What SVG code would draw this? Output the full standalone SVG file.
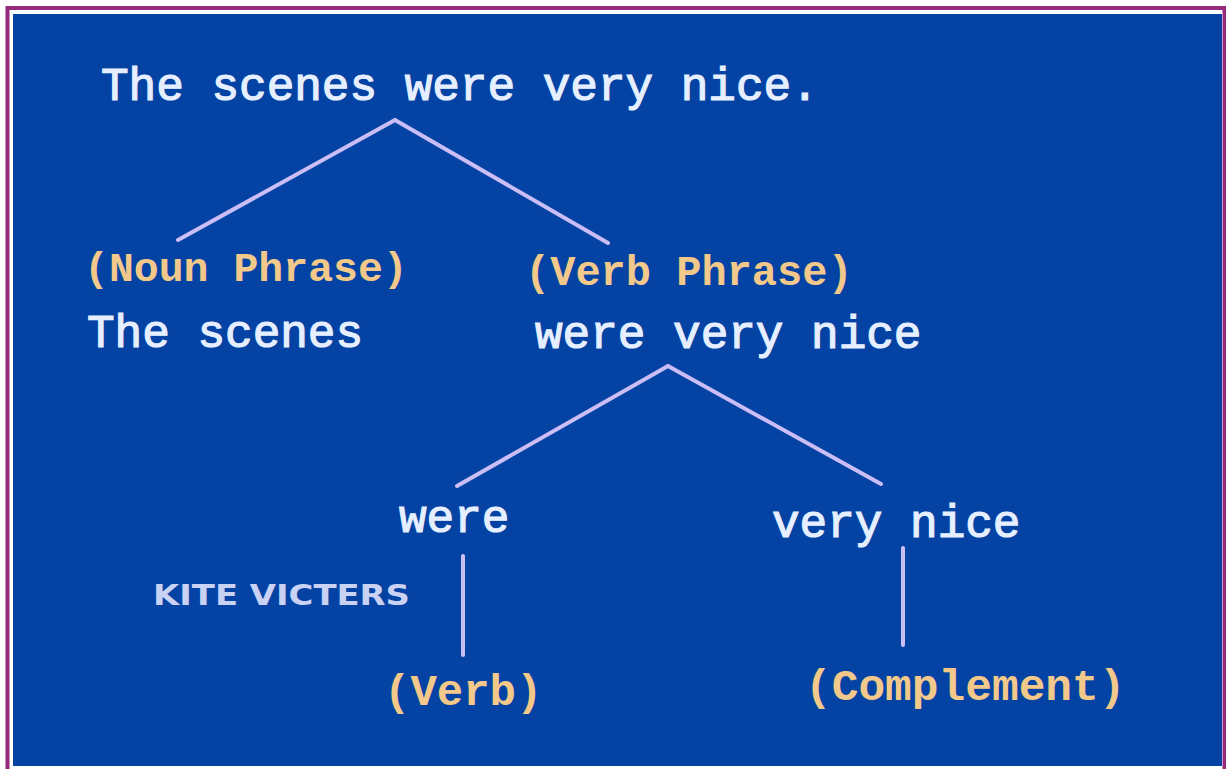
<svg xmlns="http://www.w3.org/2000/svg" width="1226" height="769" viewBox="0 0 1226 769">
<style>
.w{font-family:"Liberation Mono","Courier New",monospace;fill:#e6efff;stroke:#e6efff;stroke-width:1.2;font-size:46px}
.o{font-family:"Liberation Mono","Courier New",monospace;fill:#f2c98a;font-size:41px;font-weight:bold}
.k{font-family:"DejaVu Sans","Liberation Sans",sans-serif;fill:#c9d2f2;font-size:28px;font-weight:bold}
.ln{stroke:#cbbdf5;stroke-width:4;stroke-linecap:round;fill:none}
</style>
<rect x="0" y="0" width="1226" height="769" fill="#ffffff"/>
<rect x="7.5" y="8" width="1217" height="780" fill="none" stroke="#962a7c" stroke-width="4"/>
<rect x="13" y="14" width="1209" height="752" fill="#0443a3"/>
<g id="connectors">
<line class="ln" x1="395" y1="120" x2="178" y2="240"/>
<line class="ln" x1="395" y1="120" x2="608" y2="243"/>
<line class="ln" x1="668" y1="366" x2="457" y2="486"/>
<line class="ln" x1="668" y1="366" x2="881" y2="484"/>
<line class="ln" x1="463" y1="556" x2="463" y2="655"/>
<line class="ln" x1="903" y1="548" x2="903" y2="645"/>
</g>
<g id="root"><text class="w" x="101" y="100">The scenes were very nice.</text></g>
<g id="np"><text class="o" x="84" y="281" style="font-size:41.5px">(Noun Phrase)</text><text class="w" x="87" y="347">The scenes</text></g>
<g id="vp"><text class="o" x="525" y="285" style="font-size:42px">(Verb Phrase)</text><text class="w" x="535" y="348">were very nice</text></g>
<g id="verb"><text class="w" x="399" y="532">were</text><text class="o" x="384" y="705" style="font-size:44px">(Verb)</text></g>
<g id="comp"><text class="w" x="772" y="537">very nice</text><text class="o" x="805" y="700" style="font-size:44.5px">(Complement)</text></g>
<g id="label"><text class="k" x="153" y="605" textLength="257" lengthAdjust="spacingAndGlyphs">KITE VICTERS</text></g>
</svg>
